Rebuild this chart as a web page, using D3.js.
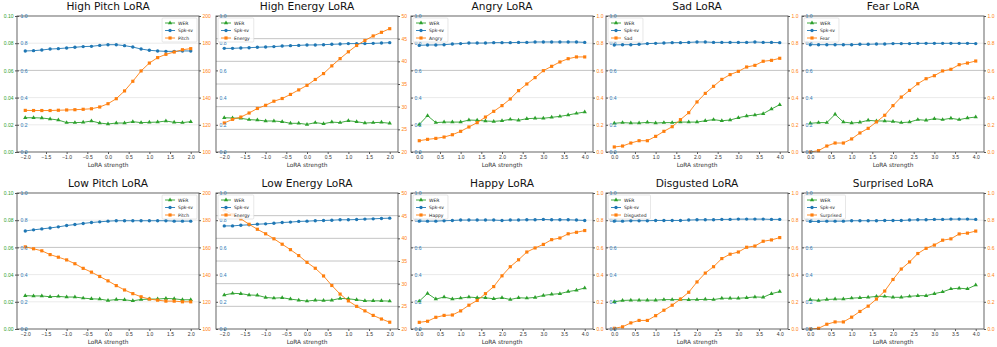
<!DOCTYPE html>
<html>
<head>
<meta charset="UTF-8">
<script src="https://d3js.org/d3.v7.min.js"></script>
<style>
  body { margin: 0; background: #fff; }
  svg { display: block; font-family: "DejaVu Sans", sans-serif; }
  .tick text { font-size: 5px; }
</style>
</head>
<body>
<svg width="997" height="347"></svg>
<script>
// x values (LoRA strength)
const xSym = [-2.0, -1.8, -1.6, -1.4, -1.2, -1.0, -0.8, -0.6, -0.4, -0.2, 0.0, 0.2, 0.4, 0.6, 0.8, 1.0, 1.2, 1.4, 1.6, 1.8, 2.0];
const xPos = [0.0, 0.2, 0.4, 0.6, 0.8, 1.0, 1.2, 1.4, 1.6, 1.8, 2.0, 2.2, 2.4, 2.6, 2.8, 3.0, 3.2, 3.4, 3.6, 3.8, 4.0];
const xTicksSym = [-2.0, -1.5, -1.0, -0.5, 0.0, 0.5, 1.0, 1.5, 2.0];
const xTicksPos = [0.0, 0.5, 1.0, 1.5, 2.0, 2.5, 3.0, 3.5, 4.0];

// tick labels of the y axes
const spkTicks = [0.0, 0.2, 0.4, 0.6, 0.8, 1.0];
const werTicks = [0.00, 0.02, 0.04, 0.06, 0.08, 0.10];
const pitchTicks = [100, 120, 140, 160, 180, 200];
const energyTicks = [20, 25, 30, 35, 40, 45, 50];
const probTicks = [0.0, 0.2, 0.4, 0.6, 0.8, 1.0];

const titles = ["High Pitch LoRA", "High Energy LoRA", "Angry LoRA", "Sad LoRA", "Fear LoRA",
                "Low Pitch LoRA", "Low Energy LoRA", "Happy LoRA", "Disgusted LoRA", "Surprised LoRA"];
const featNames = ["Pitch", "Energy", "Angry", "Sad", "Fear", "Pitch", "Energy", "Happy", "Disgusted", "Surprised"];

// High Pitch
const highPitchWer = [0.0252,0.0252,0.0250,0.0243,0.0235,0.0216,0.0216,0.0218,0.0228,0.0213,0.0206,0.0213,0.0213,0.0223,0.0216,0.0218,0.0220,0.0228,0.0218,0.0216,0.0223];
const highPitchSpk = [0.743,0.745,0.750,0.757,0.760,0.765,0.770,0.775,0.777,0.784,0.789,0.789,0.782,0.772,0.757,0.748,0.743,0.740,0.740,0.743,0.743];
const highPitchVal = [130.6,130.5,130.5,130.5,130.7,130.9,131.1,131.4,131.8,133.1,135.5,139.2,144.9,152.0,159.6,165.4,169.4,171.8,173.5,175.2,176.0];
// High Energy
const highEnergyWer = [0.0252,0.0250,0.0248,0.0238,0.0235,0.0228,0.0228,0.0223,0.0211,0.0211,0.0203,0.0216,0.0208,0.0220,0.0216,0.0230,0.0223,0.0213,0.0216,0.0218,0.0211];
const highEnergySpk = [0.762,0.762,0.765,0.767,0.770,0.772,0.775,0.779,0.782,0.784,0.787,0.787,0.789,0.792,0.794,0.797,0.797,0.797,0.799,0.801,0.804];
const highEnergyVal = [26.4,27.2,27.7,28.6,29.6,30.3,31.2,31.8,32.7,33.7,34.7,36.0,37.3,39.0,40.6,42.1,43.5,44.6,45.6,46.4,47.2];
// Angry
const angryWer = [0.0203,0.0267,0.0216,0.0220,0.0220,0.0220,0.0235,0.0233,0.0228,0.0225,0.0230,0.0240,0.0233,0.0245,0.0248,0.0248,0.0255,0.0262,0.0272,0.0284,0.0294];
const angrySpk = [0.784,0.787,0.787,0.789,0.794,0.797,0.801,0.801,0.801,0.804,0.804,0.804,0.806,0.806,0.809,0.809,0.809,0.809,0.809,0.809,0.806];
const angryVal = [0.083,0.093,0.100,0.110,0.127,0.152,0.184,0.216,0.257,0.299,0.341,0.390,0.451,0.500,0.547,0.598,0.630,0.662,0.686,0.699,0.699];
// Sad
const sadWer = [0.0211,0.0216,0.0213,0.0213,0.0218,0.0213,0.0216,0.0216,0.0220,0.0220,0.0220,0.0230,0.0238,0.0230,0.0235,0.0252,0.0265,0.0272,0.0282,0.0316,0.0348];
const sadSpk = [0.787,0.789,0.789,0.792,0.797,0.799,0.801,0.804,0.804,0.806,0.809,0.809,0.806,0.806,0.806,0.806,0.806,0.809,0.806,0.806,0.804];
const sadVal = [0.037,0.044,0.066,0.083,0.083,0.115,0.152,0.186,0.238,0.289,0.368,0.431,0.483,0.534,0.569,0.593,0.625,0.637,0.667,0.674,0.689];
// Fear
const fearWer = [0.0211,0.0216,0.0216,0.0277,0.0220,0.0213,0.0218,0.0233,0.0228,0.0228,0.0225,0.0216,0.0220,0.0238,0.0233,0.0245,0.0238,0.0248,0.0238,0.0250,0.0257];
const fearSpk = [0.789,0.789,0.789,0.789,0.789,0.789,0.792,0.792,0.794,0.794,0.797,0.797,0.797,0.799,0.799,0.799,0.799,0.799,0.799,0.799,0.797];
const fearVal = [0.000,0.010,0.044,0.066,0.066,0.096,0.140,0.174,0.221,0.270,0.341,0.404,0.453,0.502,0.539,0.561,0.596,0.608,0.642,0.654,0.669];
// Low Pitch
const lowPitchWer = [0.0245,0.0243,0.0243,0.0237,0.0240,0.0235,0.0235,0.0227,0.0222,0.0220,0.0210,0.0217,0.0215,0.0207,0.0217,0.0220,0.0220,0.0225,0.0222,0.0215,0.0215];
const lowPitchSpk = [0.721,0.729,0.736,0.743,0.751,0.761,0.768,0.776,0.783,0.788,0.793,0.796,0.796,0.796,0.796,0.796,0.796,0.796,0.793,0.793,0.793];
const lowPitchVal = [160.4,159.0,157.5,154.7,152.8,150.8,148.0,144.6,141.8,138.6,135.4,131.9,128.7,126.0,123.7,122.0,121.2,120.5,120.5,120.0,120.0];
// Low Energy
const lowEnergyWer = [0.0250,0.0262,0.0260,0.0250,0.0248,0.0232,0.0227,0.0230,0.0220,0.0212,0.0205,0.0212,0.0210,0.0212,0.0225,0.0222,0.0215,0.0207,0.0207,0.0207,0.0205];
const lowEnergySpk = [0.758,0.758,0.763,0.766,0.771,0.773,0.778,0.783,0.786,0.791,0.793,0.796,0.798,0.800,0.803,0.803,0.805,0.808,0.810,0.813,0.815];
const lowEnergyVal = [46.3,45.2,44.3,43.1,42.0,41.0,39.9,38.7,37.5,36.2,34.7,33.4,31.7,29.6,27.7,26.2,25.0,24.0,23.0,22.2,21.5];
// Happy
const happyWer = [0.0205,0.0261,0.0220,0.0235,0.0220,0.0227,0.0235,0.0230,0.0230,0.0222,0.0230,0.0217,0.0230,0.0227,0.0232,0.0247,0.0255,0.0260,0.0275,0.0285,0.0302];
const happySpk = [0.793,0.793,0.793,0.796,0.798,0.801,0.801,0.801,0.801,0.801,0.798,0.801,0.801,0.803,0.803,0.806,0.803,0.803,0.803,0.801,0.798];
const happyVal = [0.049,0.057,0.086,0.100,0.103,0.133,0.175,0.210,0.260,0.312,0.391,0.458,0.509,0.566,0.596,0.622,0.657,0.669,0.700,0.711,0.724];
// Disgusted
const disgustedWer = [0.0200,0.0210,0.0212,0.0212,0.0212,0.0212,0.0216,0.0216,0.0216,0.0215,0.0216,0.0218,0.0216,0.0226,0.0226,0.0226,0.0230,0.0236,0.0233,0.0260,0.0275];
const disgustedSpk = [0.793,0.793,0.796,0.796,0.796,0.798,0.798,0.798,0.798,0.801,0.803,0.803,0.803,0.806,0.806,0.808,0.808,0.808,0.808,0.806,0.806];
const disgustedVal = [0.005,0.016,0.045,0.063,0.063,0.098,0.138,0.175,0.220,0.270,0.346,0.411,0.458,0.518,0.550,0.566,0.601,0.610,0.645,0.655,0.672];
// Surprised
const surprisedWer = [0.0215,0.0210,0.0217,0.0220,0.0220,0.0227,0.0230,0.0233,0.0240,0.0240,0.0233,0.0233,0.0240,0.0245,0.0245,0.0260,0.0273,0.0295,0.0300,0.0295,0.0323];
const surprisedSpk = [0.791,0.791,0.793,0.793,0.793,0.796,0.796,0.796,0.796,0.798,0.798,0.798,0.801,0.803,0.803,0.806,0.806,0.808,0.808,0.808,0.806];
const surprisedVal = [0.000,0.005,0.035,0.052,0.052,0.087,0.129,0.168,0.220,0.279,0.364,0.441,0.493,0.555,0.593,0.617,0.653,0.663,0.699,0.705,0.720];

const werSeries = [highPitchWer, highEnergyWer, angryWer, sadWer, fearWer, lowPitchWer, lowEnergyWer, happyWer, disgustedWer, surprisedWer];
const spkSeries = [highPitchSpk, highEnergySpk, angrySpk, sadSpk, fearSpk, lowPitchSpk, lowEnergySpk, happySpk, disgustedSpk, surprisedSpk];
const featSeries = [highPitchVal, highEnergyVal, angryVal, sadVal, fearVal, lowPitchVal, lowEnergyVal, happyVal, disgustedVal, surprisedVal];

// layout
const colLeft = [17, 216, 411, 606, 802];
const rowTop = [16, 193];
const W = 182, H = 136;
const green = "#2ca02c", blue = "#1f77b4", orange = "#ff7f0e";

const svg = d3.select("svg");

function featTicks(name) {
  if (name === "Pitch") return pitchTicks;
  if (name === "Energy") return energyTicks;
  return probTicks;
}

titles.forEach((title, i) => {
  const row = Math.floor(i / 5), col = i % 5;
  const left = colLeft[col], top = rowTop[row];
  const feat = featNames[i];
  const symmetric = feat === "Pitch" || feat === "Energy";
  const xs = symmetric ? xSym : xPos;
  const xt = symmetric ? xTicksSym : xTicksPos;
  const ft = featTicks(feat);

  const x = d3.scaleLinear().domain([xs[0] - 0.2, xs[xs.length - 1] + 0.2]).range([left, left + W]);
  const ySpk = d3.scaleLinear().domain([0, 1]).range([top + H, top]);
  const yWer = d3.scaleLinear().domain([0, 0.1]).range([top + H, top]);
  const yFeat = d3.scaleLinear().domain([ft[0], ft[ft.length - 1]]).range([top + H, top]);

  const g = svg.append("g");

  // grid lines from the right axis
  g.selectAll(".grid")
    .data(ft.slice(1, -1))
    .enter().append("line")
    .attr("x1", left).attr("x2", left + W)
    .attr("y1", d => yFeat(d)).attr("y2", d => yFeat(d))
    .attr("stroke", d => (feat === "Energy" || Math.abs(d - 0.6) < 1e-6 || d === 160) ? "#c4c4c4" : "#ebebeb")
    .attr("stroke-width", 1);

  // series
  const series = [
    {vals: werSeries[i], y: yWer, color: green, sym: d3.symbolTriangle, size: 8},
    {vals: spkSeries[i], y: ySpk, color: blue, sym: d3.symbolCircle, size: 9},
    {vals: featSeries[i], y: yFeat, color: orange, sym: d3.symbolSquare, size: 10}
  ];
  series.forEach(s => {
    const pts = xs.map((xv, k) => [x(xv), s.y(s.vals[k])]);
    g.append("path")
      .attr("d", d3.line()(pts))
      .attr("fill", "none")
      .attr("stroke", s.color)
      .attr("stroke-width", 0.9);
    g.selectAll(null)
      .data(pts)
      .enter().append("path")
      .attr("transform", d => `translate(${d[0]},${d[1]})`)
      .attr("d", d3.symbol().type(s.sym).size(s.size))
      .attr("fill", s.color);
  });

  // frame
  g.append("rect")
    .attr("x", left).attr("y", top)
    .attr("width", W).attr("height", H)
    .attr("fill", "none")
    .attr("stroke", "#555")
    .attr("stroke-width", 0.9);

  // bottom axis
  const xAxis = g.append("g")
    .attr("transform", `translate(0,${top + H})`)
    .call(d3.axisBottom(x).tickValues(xt).tickFormat(d3.format(".1f")).tickSize(2).tickPadding(1.5));
  xAxis.select(".domain").remove();
  xAxis.selectAll("line").attr("stroke", "#555");
  xAxis.selectAll("text").attr("fill", "#333");

  g.append("text")
    .attr("x", left + W / 2)
    .attr("y", top + H + 14.5)
    .attr("text-anchor", "middle")
    .style("font-size", "5.8px")
    .attr("fill", "#333")
    .text("LoRA strength");

  // Spk-sv axis, labels inside the plot
  const spkAxis = g.append("g")
    .attr("transform", `translate(${left},0)`)
    .call(d3.axisRight(ySpk).tickValues(spkTicks).tickFormat(d3.format(".1f")).tickSize(2).tickPadding(1.5));
  spkAxis.select(".domain").remove();
  spkAxis.selectAll("line").attr("stroke", "#555");
  spkAxis.selectAll("text").attr("fill", blue);

  // feature axis on the right
  const featAxis = g.append("g")
    .attr("transform", `translate(${left + W},0)`)
    .call(d3.axisRight(yFeat).tickValues(ft)
      .tickFormat(symmetric ? d3.format("d") : d3.format(".1f")).tickSize(2).tickPadding(1.5));
  featAxis.select(".domain").remove();
  featAxis.selectAll("line").attr("stroke", "#555");
  featAxis.selectAll("text").attr("fill", orange);

  // WER axis only shows on the first column
  if (col === 0) {
    const werAxis = g.append("g")
      .attr("transform", `translate(${left},0)`)
      .call(d3.axisLeft(yWer).tickValues(werTicks).tickFormat(d3.format(".2f")).tickSize(2).tickPadding(1.5));
    werAxis.select(".domain").remove();
    werAxis.selectAll("line").attr("stroke", "#555");
    werAxis.selectAll("text").attr("fill", green);
  }

  // title
  g.append("text")
    .attr("x", left + W / 2)
    .attr("y", top - 6.5)
    .attr("text-anchor", "middle")
    .style("font-size", "10.6px")
    .attr("fill", "#111")
    .text(title);

  // legend
  const labels = ["WER", "Spk-sv", feat];
  const leg = g.append("g");
  const box = leg.append("rect")
    .attr("rx", 1).attr("ry", 1)
    .attr("fill", "#fff")
    .attr("fill-opacity", 0.85)
    .attr("stroke", "#d6d6d6")
    .attr("stroke-width", 0.6);
  let maxW = 0;
  labels.forEach((lab, k) => {
    const ly = 5 + k * 7.5;
    leg.append("line")
      .attr("x1", 3).attr("x2", 13)
      .attr("y1", ly).attr("y2", ly)
      .attr("stroke", series[k].color)
      .attr("stroke-width", 0.9);
    leg.append("path")
      .attr("transform", `translate(8,${ly})`)
      .attr("d", d3.symbol().type(series[k].sym).size(series[k].size))
      .attr("fill", series[k].color);
    const t = leg.append("text")
      .attr("x", 16).attr("y", ly)
      .attr("dy", "0.35em")
      .style("font-size", "4.5px")
      .attr("fill", "#222")
      .text(lab);
    maxW = Math.max(maxW, t.node().getComputedTextLength());
  });
  const bw = 16 + maxW + 4, bh = 24;
  box.attr("width", bw).attr("height", bh);
  const lx = (feat === "Pitch") ? left + W - 2 - bw : left + 2;
  leg.attr("transform", `translate(${lx},${top + 2})`);
});
</script>
</body>
</html>
